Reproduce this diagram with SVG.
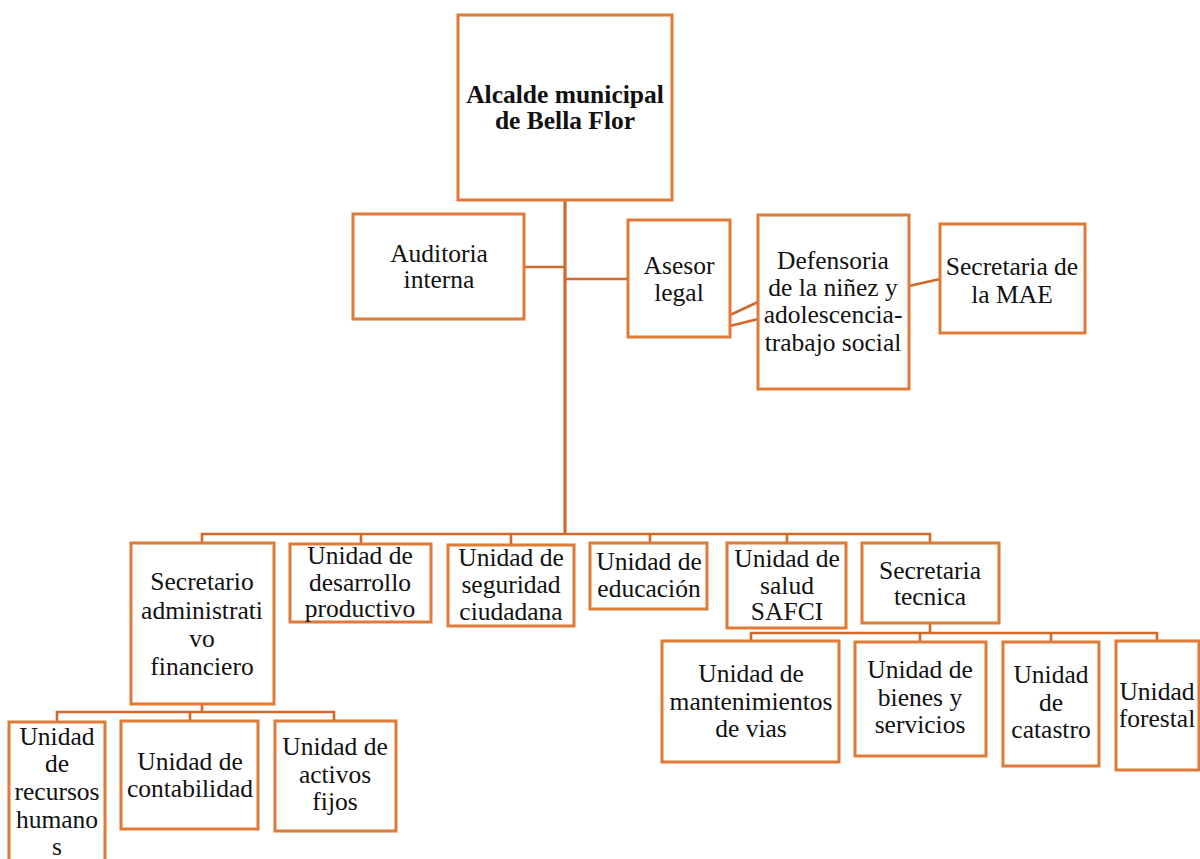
<svg xmlns="http://www.w3.org/2000/svg" width="1200" height="859" viewBox="0 0 1200 859">
<style>
.box{fill:#fff;stroke:#E07A37;stroke-width:3}
.ln{fill:none;stroke:#CF6A2C;stroke-width:2.6}
.main{fill:none;stroke:#CF6A2C;stroke-width:3.2}
.t text{font-size:25.5px;fill:#111;text-anchor:middle}
.b{font-weight:bold}
</style>
<rect width="1200" height="859" fill="#fff"/>
<g id="connectors">
<path class="main" d="M565,200 V535"/>
<path class="ln" d="M524,267 H565 M565,279 H628"/>
<path class="ln" d="M730,315 L758,302 M730,326 L758,319"/>
<path class="ln" d="M909,286 L940,279"/>
<path class="ln" d="M202,543 V534 H930 V543 M361,534 V544 M511,534 V545 M650,534 V543 M787,534 V543"/>
<path class="ln" d="M930,623 V633 M751,641 V633 H1157 V641 M920,633 V642 M1051,633 V642"/>
<path class="ln" d="M202,704 V712 M57,722 V712 H334 V721 M190,712 V721"/>
</g>
<g class="t" font-family="Liberation Serif, Times New Roman, serif">
<g id="alcalde"><rect class="box" x="458" y="15" width="214" height="185"/><text class="b" x="565" y="103">Alcalde municipal</text><text class="b" x="565" y="129">de Bella Flor</text></g>
<g id="auditoria"><rect class="box" x="353" y="214" width="171" height="105"/><text x="439" y="262">Auditoria</text><text x="439" y="288">interna</text></g>
<g id="asesor"><rect class="box" x="628" y="220" width="102" height="117"/><text x="679" y="274">Asesor</text><text x="679" y="301">legal</text></g>
<g id="defensoria"><rect class="box" x="758" y="215" width="151" height="174"/><text x="833" y="269">Defensoria</text><text x="833" y="296">de la niñez y</text><text x="833" y="323">adolescencia-</text><text x="833" y="351">trabajo social</text></g>
<g id="mae"><rect class="box" x="940" y="224" width="145" height="109"/><text x="1012" y="275">Secretaria de</text><text x="1012" y="303">la MAE</text></g>
<g id="secretario"><rect class="box" x="131" y="543" width="143" height="161"/><text x="202" y="590">Secretario</text><text x="202" y="619">administrati</text><text x="202" y="647">vo</text><text x="202" y="675">financiero</text></g>
<g id="desarrollo"><rect class="box" x="290" y="544" width="141" height="78"/><text x="360" y="564">Unidad de</text><text x="360" y="591">desarrollo</text><text x="360" y="617">productivo</text></g>
<g id="seguridad"><rect class="box" x="448" y="545" width="126" height="81"/><text x="511" y="566">Unidad de</text><text x="511" y="593">seguridad</text><text x="511" y="620">ciudadana</text></g>
<g id="educacion"><rect class="box" x="590" y="543" width="117" height="66"/><text x="649" y="570">Unidad de</text><text x="649" y="597">educación</text></g>
<g id="salud"><rect class="box" x="727" y="543" width="119" height="85"/><text x="787" y="567">Unidad de</text><text x="787" y="594">salud</text><text x="787" y="620">SAFCI</text></g>
<g id="tecnica"><rect class="box" x="862" y="543" width="137" height="80"/><text x="930" y="579">Secretaria</text><text x="930" y="605">tecnica</text></g>
<g id="mantenimientos"><rect class="box" x="662" y="641" width="177" height="121"/><text x="751" y="682">Unidad de</text><text x="751" y="710">mantenimientos</text><text x="751" y="737">de vias</text></g>
<g id="bienes"><rect class="box" x="855" y="642" width="131" height="114"/><text x="920" y="678">Unidad de</text><text x="920" y="706">bienes y</text><text x="920" y="733">servicios</text></g>
<g id="catastro"><rect class="box" x="1003" y="642" width="96" height="124"/><text x="1051" y="683">Unidad</text><text x="1051" y="711">de</text><text x="1051" y="738">catastro</text></g>
<g id="forestal"><rect class="box" x="1116" y="641" width="83" height="129"/><text x="1157" y="700">Unidad</text><text x="1157" y="727">forestal</text></g>
<g id="recursos"><rect class="box" x="9" y="722" width="96" height="150"/><text x="57" y="745">Unidad</text><text x="57" y="772">de</text><text x="57" y="800">recursos</text><text x="57" y="828">humano</text><text x="57" y="855">s</text></g>
<g id="contabilidad"><rect class="box" x="121" y="721" width="137" height="108"/><text x="190" y="770">Unidad de</text><text x="190" y="797">contabilidad</text></g>
<g id="activos"><rect class="box" x="275" y="721" width="121" height="110"/><text x="335" y="755">Unidad de</text><text x="335" y="783">activos</text><text x="335" y="810">fijos</text></g>
</g>
</svg>
